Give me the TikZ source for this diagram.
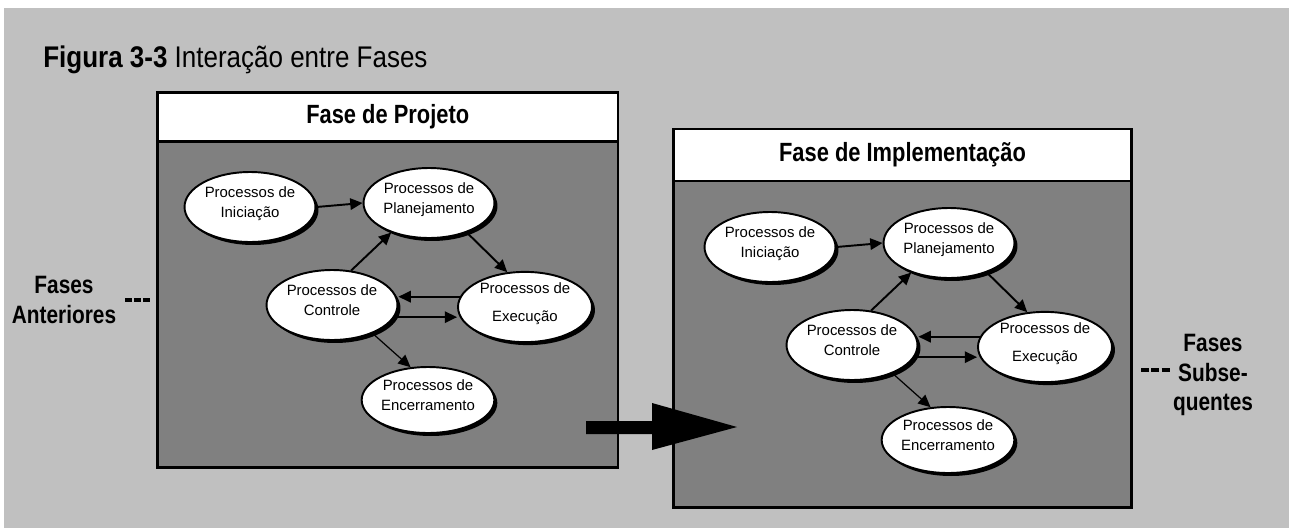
\documentclass[tikz,border=0pt]{standalone}
\usepackage{fontspec}
\setmainfont{Liberation Sans}
\newfontfamily\narrowfont{Liberation Sans}[FakeStretch=0.83]
\newfontfamily\titlefont{Liberation Sans}[FakeStretch=0.87]
\usetikzlibrary{shapes.geometric,shadows,arrows.meta}
\definecolor{bgray}{HTML}{C0C0C0}
\definecolor{igray}{HTML}{808080}
\tikzset{
  proc/.style={ellipse, draw=black, line width=1.1pt, fill=white,
    minimum width=2.62cm, minimum height=1.4cm, inner sep=0pt, align=center,
    text depth=6pt,
    font=\fontsize{8.5}{11.5}\selectfont,
    drop shadow={shadow xshift=0.06cm, shadow yshift=-0.06cm, fill=black, opacity=1}},
  flow/.style={-{Triangle[length=7pt,width=6.5pt]}, line width=1.1pt},
  thinflow/.style={-{Triangle[length=7pt,width=6.5pt]}, line width=0.7pt},
  bodybox/.style={draw=black, line width=1.7pt, fill=igray},
  bandbox/.style={draw=black, line width=1.7pt, fill=white},
  boxtitle/.style={inner sep=0pt, anchor=base, font=\narrowfont\bfseries\fontsize{15}{18}\selectfont},
  sidelabel/.style={inner sep=0pt, align=center, font=\narrowfont\bfseries\fontsize{14.3}{17}\selectfont},
  ldots/.style={line width=2.6pt, dash pattern=on 4pt off 1.1pt},
  rdots/.style={line width=2.6pt, dash pattern=on 4.6pt off 1.3pt},
  bigarrow/.style={fill=black}
}
\newcommand{\phasegraph}[1]{%
  \node[proc] (#1-ini)  at (250,207) {Processos de\\Iniciação};
  \node[proc] (#1-plan) at (429,203) {Processos de\\Planejamento};
  \node[proc] (#1-ctrl) at (332,305) {Processos de\\Controle};
  \node[proc, minimum width=2.68cm] (#1-exec) at (525,307) {Processos de\\[4.6pt]Execução};
  \node[proc, minimum height=1.32cm] (#1-enc) at (428,400) {Processos de\\Encerramento};
  \draw[flow] (#1-ini.east) -- (#1-plan.west);
  \draw[flow] (#1-plan.-38) -- (#1-exec.117);
  \draw[flow] (#1-ctrl.61) -- (#1-plan.218);
  \draw[flow] (#1-exec.171) -- (#1-exec.171 -| #1-ctrl.east);
  \draw[flow] (#1-ctrl.-11) -- (#1-ctrl.-11 -| #1-exec.west);
  \draw[thinflow] (#1-ctrl.-35) -- (#1-enc.118);
}
\begin{document}
\begin{tikzpicture}[x=0.02cm, y=-0.02cm]
  \useasboundingbox (0,0) rectangle (1289,528);
  \fill[white] (0,0) rectangle (1289,528);
  \fill[bgray] (4,8) rectangle (1289,528);

  % title
  \node[anchor=base west, inner sep=0pt, font=\titlefont\fontsize{17}{20}\selectfont] (title) at (43,67)
    {\textbf{Figura 3-3} Interação entre Fases};

  % phase boxes
  \draw[bodybox] (157.5,141.5) rectangle (618,467.5);
  \draw[bandbox] (157.5,92.5) rectangle (618,141.5);
  \node[boxtitle] (t1) at (387.75,123) {Fase de Projeto};

  \draw[bodybox] (673.3,181) rectangle (1131.7,507.5);
  \draw[bandbox] (673.3,129) rectangle (1131.7,181);
  \node[boxtitle] (t2) at (902.5,161) {Fase de Implementação};

  % process graphs
  \phasegraph{a}
  \begin{scope}[shift={(520,40)}]
    \phasegraph{b}
  \end{scope}

  % side labels
  \node[sidelabel] (prev) at (64,300) {Fases\\Anteriores};
  \coordinate (pd1) at (125,300);
  \coordinate (pd2) at (150.2,300);
  \draw[ldots] (pd1) -- (pd2);

  \node[sidelabel] (next) at (1213,375) {Fases\\Subse-\\quentes};
  \coordinate (nd1) at (1141,370);
  \coordinate (nd2) at (1170,370);
  \draw[rdots] (nd1) -- (nd2);

  % big arrow between phases
  \fill[bigarrow] (586,421) -- (652,421) -- (652,403) -- (737,427) -- (652,450) -- (652,434) -- (586,434) -- cycle;
\end{tikzpicture}
\end{document}
